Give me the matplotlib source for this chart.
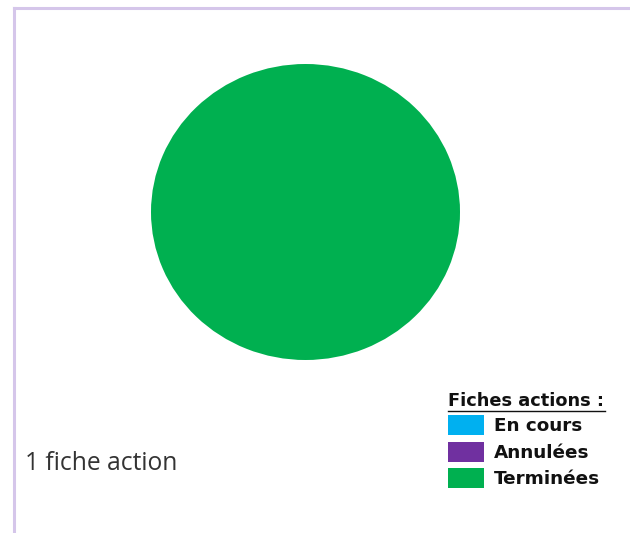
import matplotlib.pyplot as plt
from matplotlib.patches import Rectangle
from matplotlib.lines import Line2D

# === Data ===
categories = ["En cours", "Annulées", "Terminées"]
counts = [0, 0, 1]
colors = ["#00b0f0", "#7030a0", "#00b050"]
legend_title = "Fiches actions :"
total_label = "1 fiche action"

W, H = 630, 533
fig = plt.figure(figsize=(W / 100, H / 100), dpi=100)
fig.patch.set_facecolor("white")


def fx(px):
    return px / W


def fy(py):
    return 1 - py / H


# Frame lines (left and top)
border = "#d5c6ea"
fig.add_artist(Line2D([fx(14), fx(14)], [fy(8), fy(533)], color=border, lw=2.2))
fig.add_artist(Line2D([fx(14), fx(630)], [fy(8), fy(8)], color=border, lw=2.2))

# Pie
ax = fig.add_axes([fx(151), fy(360), (460 - 151) / W, (360 - 64) / H])
ax.pie(counts, colors=colors, startangle=90, counterclock=False,
       wedgeprops=dict(linewidth=0))
ax.set_aspect("auto")
ax.set_xlim(-1, 1)
ax.set_ylim(-1, 1)
ax.axis("off")

# Total text
fig.text(fx(25), fy(463), total_label, fontsize=17.7, family="Open Sans",
         color="#333333", va="center", ha="left")

# Legend
fig.text(fx(448), fy(401), legend_title, fontsize=12.8, fontweight="bold",
         family="DejaVu Sans", color="#111111", va="center", ha="left")
fig.add_artist(Line2D([fx(448), fx(605)], [fy(411), fy(411)], color="#111111", lw=1))

y0 = 415
for i, (lab, col) in enumerate(zip(categories, colors)):
    top = y0 + i * 26.5
    fig.add_artist(Rectangle((fx(448), fy(top + 20)), 36 / W, 20 / H,
                             facecolor=col, edgecolor="none"))
    fig.text(fx(494), fy(top + 11), lab, fontsize=13.2, fontweight="bold",
             family="DejaVu Sans", color="#111111", va="center", ha="left")

plt.savefig("out.png", dpi=100)
